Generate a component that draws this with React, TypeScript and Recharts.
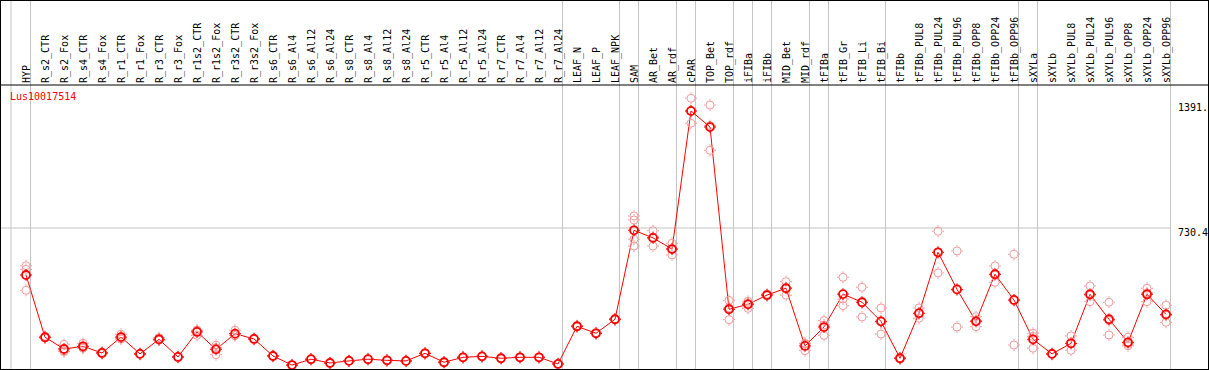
import { ComposedChart, Line, Scatter, XAxis, YAxis, ReferenceLine } from "recharts";

// ── Data ──────────────────────────────────────────────────────────
const GENE = "Lus10017514";

const CATEGORIES = [
  "HYP",
  "R_s2_CTR", "R_s2_Fox", "R_s4_CTR", "R_s4_Fox", "R_r1_CTR", "R_r1_Fox",
  "R_r3_CTR", "R_r3_Fox", "R_r1s2_CTR", "R_r1s2_Fox", "R_r3s2_CTR", "R_r3s2_Fox",
  "R_s6_CTR", "R_s6_Al4", "R_s6_Al12", "R_s6_Al24",
  "R_s8_CTR", "R_s8_Al4", "R_s8_Al12", "R_s8_Al24",
  "R_r5_CTR", "R_r5_Al4", "R_r5_Al12", "R_r5_Al24",
  "R_r7_CTR", "R_r7_Al4", "R_r7_Al12", "R_r7_Al24",
  "LEAF_N", "LEAF_P", "LEAF_NPK",
  "SAM", "AR_Bet", "AR_rdf", "cPAR", "TOP_Bet", "TOP_rdf",
  "iFIBa", "iFIBb", "MID_Bet", "MID_rdf",
  "tFIBa", "tFIB_Gr", "tFIB_Li", "tFIB_Bi",
  "tFIBb", "tFIBb_PUL8", "tFIBb_PUL24", "tFIBb_PUL96", "tFIBb_OPP8", "tFIBb_OPP24", "tFIBb_OPP96",
  "sXYLa",
  "sXYLb", "sXYLb_PUL8", "sXYLb_PUL24", "sXYLb_PUL96", "sXYLb_OPP8", "sXYLb_OPP24", "sXYLb_OPP96",
];

const MEANS = [
  482,
  153, 91, 105, 70, 154, 65, 142, 49, 181, 89, 172, 144,
  54, 6, 37, 17, 28, 37, 31, 28,
  68, 21, 47, 52, 42, 47, 47, 12,
  211, 174, 248,
  718, 678, 619, 1349, 1264, 301,
  327, 376, 412, 107,
  207, 381, 338, 237,
  42, 280, 602, 406, 237, 486, 350,
  142,
  65, 121, 380, 248, 126, 380, 274,
];

const REP1 = [
  531,
  158, 116, 121, 73, 169, 67, 151, 51, 191, 111, 190, 147,
  56, 8, 39, 19, 30, 38, 33, 29,
  70, 22, 49, 54, 43, 48, 49, 13,
  214, 177, 251,
  794, 716, 650, 1416, 1380, 348,
  343, 381, 447, 121,
  241, 470, 417, 308,
  45, 308, 713, 609, 262, 530, 591,
  174,
  67, 160, 424, 338, 153, 412, 322,
];

const REP2 = [
  512,
  150, 77, 99, 66, 150, 62, 138, 46, 188, 97, 163, 141,
  52, 4, 35, 15, 26, 35, 29, 26,
  66, 19, 45, 50, 40, 45, 45, 10,
  208, 172, 245,
  773, 682, 621, 1347, 1271, 308,
  332, 372, 414, 118,
  218, 355, 336, 234,
  39, 278, 600, 403, 242, 484, 346,
  158,
  62, 119, 375, 241, 118, 387, 269,
];

const REP3 = [
  401,
  151, 80, 95, 71, 143, 66, 137, 50, 163, 61, 162, 144,
  54, 6, 37, 17, 28, 38, 31, 29,
  68, 22, 47, 52, 43, 48, 47, 13,
  211, 173, 248,
  671, 635, 588, 1284, 1141, 246,
  306, 376, 375, 82,
  163, 320, 260, 170,
  42, 253, 493, 207, 209, 443, 112,
  95,
  66, 84, 341, 165, 108, 341, 232,
];

// SAM has a fourth replicate
const EXTRA_REPS = [{ category: "SAM", value: 635 }];

const Y_TICKS = [0, 730.4, 1391];
const Y_TICK_LABELS = ["0", "730.4", "1391."];

// last category of each sample group (a grey divider follows it)
const GROUP_ENDS = [0, 28, 31, 32, 34, 35, 37, 38, 39, 41, 42, 45, 52, 53, 60];

// ── Styling ───────────────────────────────────────────────────────
const RED = "#ff0000";
const PINK = "#f29a9a";
const GRID = "#c4c4c4";
const FONT = "'DejaVu Sans Mono', monospace";
const Y_DOMAIN: [number, number] = [-14.8, 1486.1];
const Y_TOP_OUT = 1950; // past the top of the picture
const DIVIDER_OFFSET = 0.237; // category units right of the group's last point

const chartData = CATEGORIES.map((name, i) => ({ idx: i, name, mean: MEANS[i] }));

const repData = [
  ...CATEGORIES.flatMap((_, i) => [REP1[i], REP2[i], REP3[i]].map((v) => ({ idx: i, v }))),
  ...EXTRA_REPS.map((r) => ({ idx: CATEGORIES.indexOf(r.category), v: r.value })),
];

function Marker({ cx, cy, color, width }: any) {
  if (cx == null || cy == null || isNaN(cx) || isNaN(cy)) return null;
  return (
    <g>
      <circle cx={cx} cy={cy} r={4} fill="none" stroke={color} strokeWidth={width} />
      <path
        d={`M${cx} ${cy - 6}V${cy - 4.5}M${cx} ${cy + 4.5}V${cy + 6}M${cx - 6} ${cy}H${cx - 4.5}M${cx + 4.5} ${cy}H${cx + 6}`}
        stroke={color}
        strokeWidth={1}
      />
    </g>
  );
}

function CategoryTick({ x, y, payload }: any) {
  const label = CATEGORIES[payload.value];
  return (
    <text
      x={x + 4}
      y={y}
      transform={`rotate(-90 ${x + 4} ${y})`}
      textAnchor="start"
      fontFamily={FONT}
      fontSize={10}
      fill="#000"
    >
      {label}
    </text>
  );
}

function ValueTick({ x, y, payload }: any) {
  const i = Y_TICKS.indexOf(payload.value);
  return (
    <text
      x={x}
      y={payload.value === 0 ? y : y + 8.5}
      textAnchor="start"
      fontFamily={FONT}
      fontSize={10}
      fill="#000"
    >
      {Y_TICK_LABELS[i]}
    </text>
  );
}

export default function App() {
  const last = CATEGORIES.length - 1;
  return (
    <div style={{ position: "absolute", left: 0, top: 0, width: 1209, height: 370, background: "#fff" }}>
      <ComposedChart
        width={1209}
        height={370}
        data={chartData}
        margin={{ top: 0, right: 0, bottom: 1, left: 26 }}
      >
        <XAxis
          dataKey="idx"
          type="number"
          orientation="top"
          domain={[0, last]}
          ticks={CATEGORIES.map((_, i) => i)}
          interval={0}
          height={85}
          tickSize={1}
          tickMargin={1}
          tickLine={false}
          axisLine={false}
          tick={<CategoryTick />}
        />
        <YAxis
          orientation="right"
          type="number"
          domain={Y_DOMAIN}
          ticks={Y_TICKS}
          width={43}
          tickSize={6}
          tickMargin={6}
          tickLine={false}
          axisLine={false}
          allowDataOverflow
          tick={<ValueTick />}
        />

        {/* grey group dividers, running through the label header */}
        <ReferenceLine
          segment={[{ x: -0.79, y: Y_DOMAIN[0] }, { x: -0.79, y: Y_TOP_OUT }]}
          stroke={GRID}
          ifOverflow="visible"
        />
        {GROUP_ENDS.map((e) => (
          <ReferenceLine
            key={e}
            segment={[{ x: e + DIVIDER_OFFSET, y: Y_DOMAIN[0] }, { x: e + DIVIDER_OFFSET, y: Y_TOP_OUT }]}
            stroke={GRID}
            ifOverflow="visible"
          />
        ))}
        <ReferenceLine
          segment={[{ x: -1.4, y: Y_TICKS[1] }, { x: last + DIVIDER_OFFSET, y: Y_TICKS[1] }]}
          stroke={GRID}
          ifOverflow="visible"
        />
        {/* header rule */}
        <ReferenceLine
          segment={[{ x: -2, y: Y_DOMAIN[1] }, { x: last + 3, y: Y_DOMAIN[1] }]}
          stroke="#000"
          ifOverflow="visible"
        />

        <Scatter
          data={repData}
          dataKey="v"
          isAnimationActive={false}
          shape={(p: any) => <Marker cx={p.cx} cy={p.cy} color={PINK} width={1} />}
        />
        <Line
          type="linear"
          dataKey="mean"
          stroke={RED}
          strokeWidth={1}
          isAnimationActive={false}
          dot={(p: any) => <Marker key={p.index} cx={p.cx} cy={p.cy} color={RED} width={1.8} />}
          activeDot={false}
        />
      </ComposedChart>
      <span
        style={{
          position: "absolute",
          left: 10,
          top: 92,
          fontFamily: FONT,
          fontSize: 10,
          lineHeight: "10px",
          color: RED,
          whiteSpace: "nowrap",
        }}
      >
        {GENE}
      </span>
      <div
        style={{
          position: "absolute",
          left: 0,
          top: 0,
          width: 1209,
          height: 370,
          boxSizing: "border-box",
          border: "1px solid #000",
          pointerEvents: "none",
        }}
      />
    </div>
  );
}
